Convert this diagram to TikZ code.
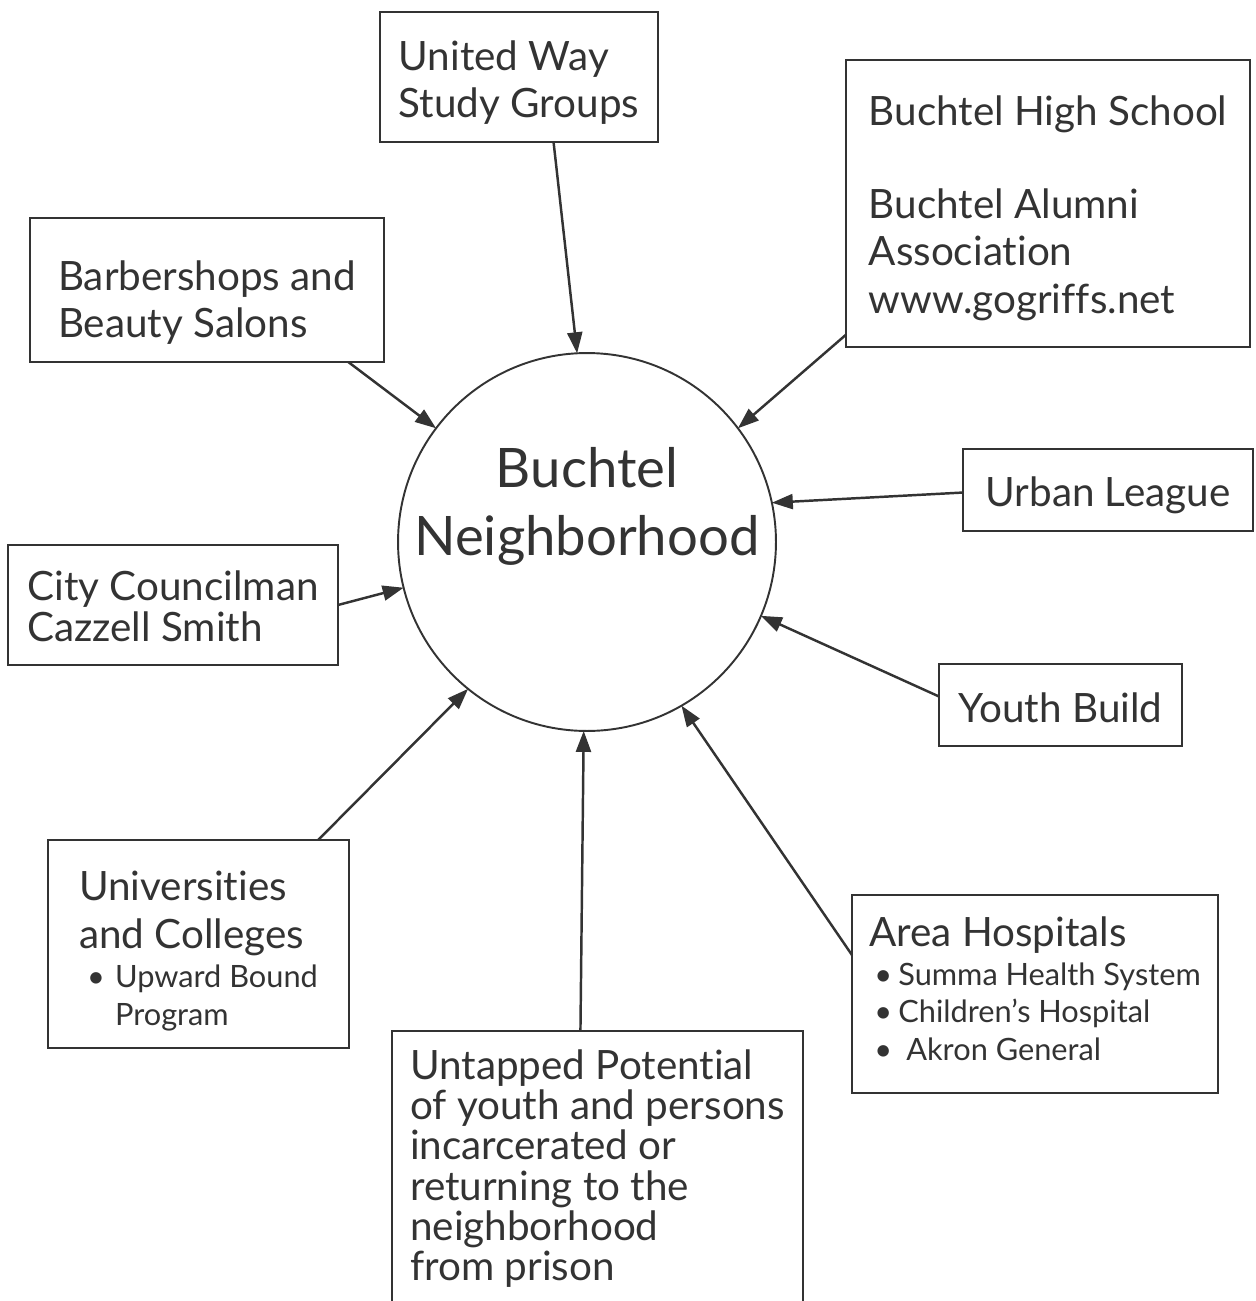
\documentclass[tikz,border=0pt]{standalone}
\usepackage{fontspec}
\setmainfont{Lato}[Ligatures=NoCommon]
\usetikzlibrary{arrows.meta}
\definecolor{ink}{HTML}{333333}
\newcommand{\subfont}{\fontsize{17.5}{21.6}\selectfont}
\newcommand{\dotitem}[1]{\makebox[#1][l]{\textbullet}}
\newcommand{\topstrut}[1]{\rule{0pt}{#1}}
\newcommand{\footstrut}{\rule[-0.4cm]{0pt}{0.4cm}}

\begin{document}
\begin{tikzpicture}[x=0.02cm, y=-0.02cm,
  every node/.style={text=ink, outer sep=0pt},
  org/.style={draw=ink, line width=1.1pt, align=left, inner sep=0pt, font=\fontsize{23}{27.3}\selectfont},
  hub/.style={circle, draw=ink, line width=1.1pt, minimum size=7.56cm, inner sep=0pt},
  hubname/.style={align=center, font=\fontsize{31}{38.7}\selectfont},
  feed/.style={draw=ink, line width=1.4pt, -{Triangle[length=0.42cm, width=0.3cm]}}]
\clip (0,0) rectangle (1256,1301);

\node[hub] (hub) at (587,542) {};
\node[hubname] (hubtext) at (587,506) {Buchtel\\Neighborhood};

\node[org, minimum width=5.56cm, minimum height=2.6cm] (uw) at (519,77) {\topstrut{1.08cm}United Way\\Study Groups\footstrut};
\node[org, minimum width=7.08cm, minimum height=2.88cm] (barb) at (207,290) {\topstrut{1.36cm}Barbershops and\\Beauty Salons\footstrut};
\node[org, minimum width=8.08cm, minimum height=5.74cm] (bhs) at (1048,203.5) {\topstrut{1.04cm}Buchtel High School\\[0.9cm]Buchtel Alumni\\Association\\www.gogriffs.net\footstrut};
\node[org, minimum width=5.8cm, minimum height=1.64cm] (urban) at (1108,490) {\topstrut{1.04cm}Urban League\footstrut};
\node[org, minimum width=6.6cm, minimum height=2.4cm, font=\fontsize{23}{23.9}\selectfont] (city) at (173,605) {\topstrut{1.04cm}City Councilman\\Cazzell Smith\footstrut};
\node[org, minimum width=4.86cm, minimum height=1.64cm] (youth) at (1060.5,705) {\topstrut{1.08cm}Youth Build\footstrut};
\node[org, minimum width=6.02cm, minimum height=4.16cm] (univ) at (198.5,944) {\topstrut{1.16cm}Universities\\and Colleges\\[-0.16cm]{\subfont\hspace{0.16cm}\dotitem{0.56cm}Upward Bound}\\[-0.2cm]{\subfont\hspace{0.72cm}Program}\footstrut};
\node[org, minimum width=7.32cm, minimum height=3.96cm] (area) at (1035,994) {\topstrut{0.78cm}Area Hospitals\\[-0.18cm]{\subfont\hspace{0.1cm}\dotitem{0.48cm}Summa Health System}\\[-0.2cm]{\subfont\hspace{0.1cm}\dotitem{0.48cm}Children’s Hospital}\\[-0.2cm]{\subfont\hspace{0.1cm}\dotitem{0.64cm}Akron General}\footstrut};
\node[org, minimum width=8.22cm, minimum height=5.56cm, font=\fontsize{23}{22.8}\selectfont] (untap) at (597.5,1170) {\topstrut{0.8cm}Untapped Potential\\of youth and persons\\incarcerated or\\returning to the\\neighborhood\\from prison\footstrut};

\draw[feed] (uw.-62) -- (hub.93);
\draw[feed] (barb.-27) -- (hub.143);
\draw[feed] (bhs.213) -- (hub.37);
\draw[feed] (urban.181) -- (hub.12);
\draw[feed] (city.0) -- (hub.194);
\draw[feed] (youth.176) -- (hub.337);
\draw[feed] (univ.41) -- (hub.231);
\draw[feed] (untap.97) -- (hub.269);
\draw[feed] (area.168) -- (hub.300);
\end{tikzpicture}
\end{document}
